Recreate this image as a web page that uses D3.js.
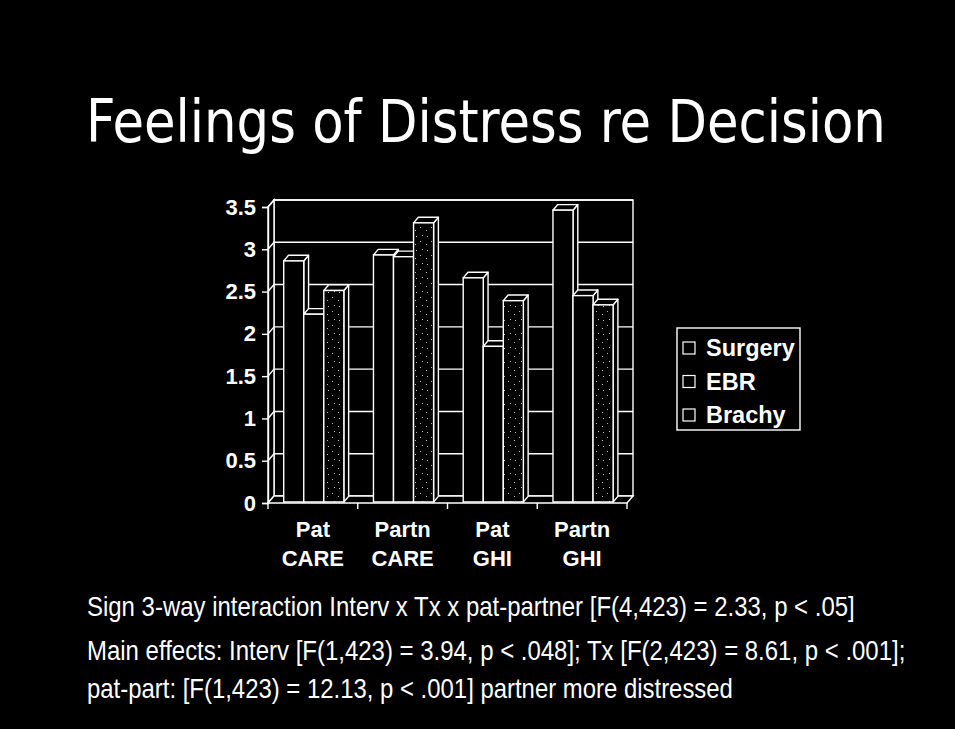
<!DOCTYPE html>
<html>
<head>
<meta charset="utf-8">
<script src="https://cdn.jsdelivr.net/npm/d3@7"></script>
<style>
  html, body { margin: 0; padding: 0; background: #000; }
  svg { display: block; }
</style>
</head>
<body>
<svg id="slide" width="955" height="729"></svg>
<script>
const categories = ["Pat CARE", "Partn CARE", "Pat GHI", "Partn GHI"];
const seriesNames = ["Surgery", "EBR", "Brachy"];
const surgery = [2.85, 2.92, 2.65, 3.45];
const ebr = [2.22, 2.90, 1.84, 2.44];
const brachy = [2.50, 3.30, 2.38, 2.33];
const yTicks = [0, 0.5, 1, 1.5, 2, 2.5, 3, 3.5];
const notes = [
  "Sign 3-way interaction Interv x Tx x pat-partner [F(4,423) = 2.33, p < .05]",
  "Main effects: Interv [F(1,423) = 3.94, p < .048]; Tx [F(2,423) = 8.61, p < .001];",
  "pat-part: [F(1,423) = 12.13, p < .001] partner more distressed"
];
const noteBaselines = [616, 660, 698];
const noteWidths = [768, 819, 646];

const values = { Surgery: surgery, EBR: ebr, Brachy: brachy };

const svg = d3.select('#slide');
const white = '#fff';
const lw = 1.4;

// plot frame, depth offset of the 3d box
const plotLeft = 268, plotRight = 627, plotBottom = 503, plotTop = 207;
const DX = 6, DY = -7;
const zFront = 0.15, zBack = 0.95;

// squeeze a text horizontally to a given width (slide fonts are narrow)
function fitWidth(sel, width) {
  sel.each(function(d, i) {
    const natural = this.getComputedTextLength();
    const target = typeof width === 'function' ? width(d, i) : width;
    const x = +this.getAttribute('x'), y = +this.getAttribute('y');
    this.setAttribute('x', 0);
    this.setAttribute('y', 0);
    this.setAttribute('transform',
      'translate(' + x + ',' + y + ') scale(' + (target / natural) + ',1)');
  });
}

svg.append('rect').attr('width', 955).attr('height', 729).attr('fill', '#000');

// speckle pattern for Brachy
const defs = svg.append('defs');
const pat = defs.append('pattern')
  .attr('id', 'speckle')
  .attr('patternUnits', 'userSpaceOnUse')
  .attr('width', 11).attr('height', 14);
pat.append('rect').attr('width', 11).attr('height', 14).attr('fill', '#000');
[[2, 3], [8, 6], [4, 11], [9, 12]].forEach(p => {
  pat.append('rect').attr('x', p[0]).attr('y', p[1])
    .attr('width', 1).attr('height', 1).attr('fill', '#bbb');
});

// title
svg.append('text')
  .attr('x', 86).attr('y', 142)
  .attr('fill', white)
  .attr('font-family', '"DejaVu Sans Condensed", "DejaVu Sans", sans-serif')
  .attr('font-size', 58)
  .text('Feelings of Distress re Decision')
  .call(fitWidth, 800);

const yScale = d3.scaleLinear().domain([0, 3.5]).range([plotBottom, plotTop]);
const x0 = d3.scaleBand().domain(categories).range([plotLeft, plotRight])
  .paddingInner(0.33).paddingOuter(0.165);
const x1 = d3.scaleBand().domain(seriesNames).range([0, x0.bandwidth()]);

const pts = a => a.map(p => p.join(',')).join(' ');
const chart = svg.append('g');

// back wall
const yTop = yScale(3.5), y0 = yScale(0);
chart.append('polygon')
  .attr('points', pts([[plotLeft + DX, yTop + DY], [plotRight + DX, yTop + DY],
    [plotRight + DX, y0 + DY], [plotLeft + DX, y0 + DY]]))
  .attr('fill', '#000').attr('stroke', white).attr('stroke-width', lw);

// side wall
chart.append('polygon')
  .attr('points', pts([[plotLeft, yTop], [plotLeft + DX, yTop + DY],
    [plotLeft + DX, y0 + DY], [plotLeft, y0]]))
  .attr('fill', '#000').attr('stroke', white).attr('stroke-width', lw);

// gridlines on both walls
chart.selectAll('.grid')
  .data(yTicks.filter(t => t > 0))
  .enter().append('polyline')
  .attr('class', 'grid')
  .attr('points', t => pts([[plotLeft, yScale(t)], [plotLeft + DX, yScale(t) + DY],
    [plotRight + DX, yScale(t) + DY]]))
  .attr('fill', 'none').attr('stroke', white).attr('stroke-width', lw);

// floor
chart.append('polygon')
  .attr('points', pts([[plotLeft, y0], [plotRight, y0], [plotRight + DX, y0 + DY], [plotLeft + DX, y0 + DY]]))
  .attr('fill', '#000').attr('stroke', white).attr('stroke-width', lw);

// bars, left to right so that each one hides the side of the previous
const bars = [];
categories.forEach((c, i) => {
  seriesNames.forEach(s => {
    bars.push({ cat: c, series: s, v: values[s][i] });
  });
});

const ddx = DX * (zBack - zFront), ddy = DY * (zBack - zFront);
const w = x1.bandwidth();

const barG = chart.selectAll('.bar')
  .data(bars)
  .enter().append('g')
  .attr('class', 'bar');

barG.each(function(d) {
  const g = d3.select(this);
  const fx = x0(d.cat) + x1(d.series) + DX * zFront;
  const fb = yScale(0) + DY * zFront;
  const ft = yScale(d.v) + DY * zFront;
  g.append('polygon')
    .attr('points', pts([[fx + w, ft], [fx + w + ddx, ft + ddy], [fx + w + ddx, fb + ddy], [fx + w, fb]]))
    .attr('fill', '#000').attr('stroke', white).attr('stroke-width', lw)
    .attr('stroke-linejoin', 'round');
  g.append('polygon')
    .attr('points', pts([[fx, ft], [fx + ddx, ft + ddy], [fx + w + ddx, ft + ddy], [fx + w, ft]]))
    .attr('fill', '#000').attr('stroke', white).attr('stroke-width', lw)
    .attr('stroke-linejoin', 'round');
  g.append('rect')
    .attr('x', fx).attr('y', ft)
    .attr('width', w).attr('height', fb - ft)
    .attr('fill', d.series === 'Brachy' ? 'url(#speckle)' : '#000')
    .attr('stroke', white).attr('stroke-width', lw);
});

// y axis
const yAxis = svg.append('g')
  .attr('transform', 'translate(' + plotLeft + ',0)')
  .call(d3.axisLeft(yScale).tickValues(yTicks).tickSize(6).tickPadding(6)
    .tickFormat(d3.format('~g')));
yAxis.select('.domain').attr('stroke', white).attr('stroke-width', lw);
yAxis.selectAll('.tick line').attr('stroke', white).attr('stroke-width', lw);
yAxis.selectAll('.tick text')
  .attr('fill', white)
  .attr('font-family', '"Liberation Sans", Arial, sans-serif')
  .attr('font-weight', 'bold')
  .attr('font-size', 22);

// x axis labels (two lines each)
const xAxis = svg.append('g')
  .attr('transform', 'translate(0,' + plotBottom + ')')
  .call(d3.axisBottom(x0).tickSize(0).tickSizeOuter(0));
xAxis.select('.domain').remove();
xAxis.selectAll('.tick text')
  .attr('y', 0).attr('dy', null)
  .attr('fill', white)
  .attr('font-family', '"Liberation Sans", Arial, sans-serif')
  .attr('font-weight', 'bold')
  .attr('font-size', 22)
  .text(null)
  .each(function(d) {
    const parts = d.split(' ');
    const t = d3.select(this);
    t.append('tspan').attr('x', 0).attr('y', 34).text(parts[0]);
    t.append('tspan').attr('x', 0).attr('y', 63).text(parts[1]);
  });

// category boundary ticks
const bounds = [plotLeft].concat(categories.map(c =>
  x0(c) + x0.bandwidth() + x0.step() * x0.paddingInner() / 2));
svg.selectAll('.xtick')
  .data(bounds)
  .enter().append('line')
  .attr('class', 'xtick')
  .attr('x1', d => d).attr('x2', d => d)
  .attr('y1', plotBottom).attr('y2', plotBottom + 6)
  .attr('stroke', white).attr('stroke-width', lw);

// legend
const legend = svg.append('g').attr('transform', 'translate(677,328)');
legend.append('rect')
  .attr('width', 123).attr('height', 102)
  .attr('fill', '#000').attr('stroke', white).attr('stroke-width', lw);
const item = legend.selectAll('.item')
  .data(seriesNames)
  .enter().append('g')
  .attr('class', 'item')
  .attr('transform', (d, i) => 'translate(0,' + (20 + i * 33.5) + ')');
item.append('rect')
  .attr('x', 6).attr('y', -6).attr('width', 12).attr('height', 12)
  .attr('fill', '#000').attr('stroke', white).attr('stroke-width', 1.2);
item.append('text')
  .attr('x', 29).attr('y', 8)
  .attr('fill', white)
  .attr('font-family', '"Liberation Sans", Arial, sans-serif')
  .attr('font-weight', 'bold')
  .attr('font-size', 23.5)
  .text(d => d);

// notes under the chart
svg.selectAll('.note')
  .data(notes)
  .enter().append('text')
  .attr('class', 'note')
  .attr('x', 87)
  .attr('y', (d, i) => noteBaselines[i])
  .attr('fill', white)
  .attr('font-family', '"Liberation Sans Narrow", "Liberation Sans", Arial, sans-serif')
  .attr('font-size', 27)
  .text(d => d)
  .call(fitWidth, (d, i) => noteWidths[i]);
</script>
</body>
</html>
